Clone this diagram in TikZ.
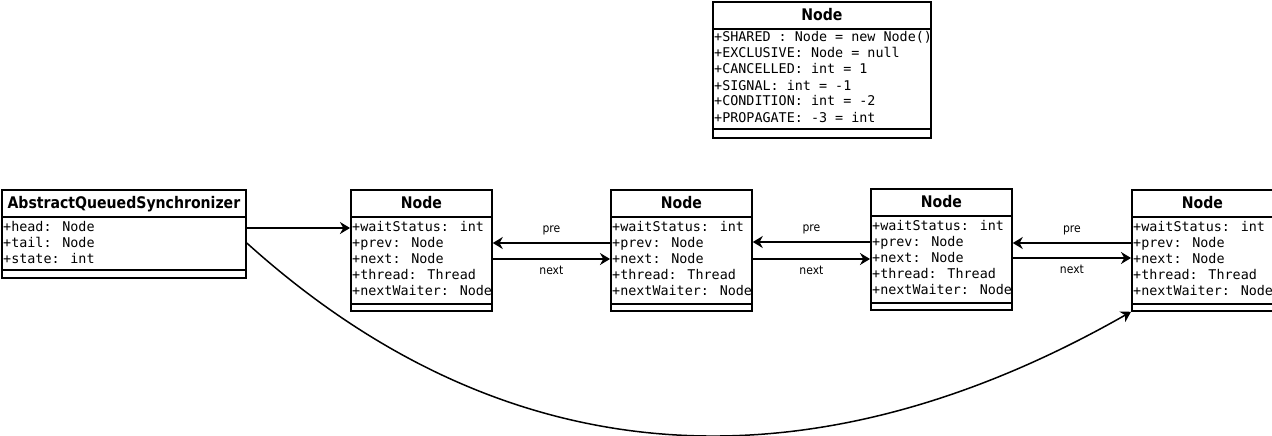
\documentclass[tikz,border=0pt]{standalone}
\usepackage{fontspec}
\setmainfont{DejaVu Sans}
\newfontfamily\monofont{DejaVu Sans Mono}
\newfontfamily\titlefont[FakeStretch=0.88]{DejaVu Sans}
\newfontfamily\labelfont[FakeStretch=0.9]{DejaVu Sans}
\usetikzlibrary{arrows.meta}

\begin{document}
\begin{tikzpicture}[x=1pt,y=-1pt,
  classbox/.style={draw, line width=1.8pt, inner sep=0pt, anchor=north west},
  classname/.style={font=\titlefont\bfseries\fontsize{16}{18}\selectfont, anchor=base, inner sep=0pt},
  member/.style={font=\monofont\fontsize{13.4}{16}\selectfont, anchor=base west, inner sep=0pt},
  rule/.style={line width=1.8pt},
  link/.style={line width=1.8pt, -{Stealth[length=10pt,width=12pt]}},
  linklabel/.style={font=\labelfont\fontsize{12}{14}\selectfont, inner sep=0pt, anchor=base}]
\useasboundingbox (0,0) rectangle (1272,436);

% constants of Node
\node[classbox, minimum width=218pt, minimum height=136pt] (consts) at (712,1) {};
\node[classname] at ([yshift=-19.5pt]consts.north) {Node};
\draw[rule] ([yshift=-28pt]consts.north west) -- ([yshift=-28pt]consts.north east);
\draw[rule] ([yshift=10pt]consts.south west) -- ([yshift=10pt]consts.south east);
\foreach \txt [count=\i] in {+SHARED : Node = new Node(), +EXCLUSIVE: Node = null,
    +CANCELLED: int = 1, +SIGNAL: int = -1, +CONDITION: int = -2, +PROPAGATE: -3 = int}
  \node[member] at ([xshift=2pt, yshift={-25pt-\i*16pt}]consts.north west) {\txt};

% synchronizer
\node[classbox, minimum width=244pt, minimum height=88pt] (aqs) at (1,189) {};
\node[classname] at ([yshift=-19.5pt]aqs.north) {AbstractQueuedSynchronizer};
\draw[rule] ([yshift=-28pt]aqs.north west) -- ([yshift=-28pt]aqs.north east);
\draw[rule] ([yshift=9pt]aqs.south west) -- ([yshift=9pt]aqs.south east);
\foreach \txt [count=\i] in {+head: Node, +tail: Node, +state: int}
  \node[member] at ([xshift=2pt, yshift={-26pt-\i*16pt}]aqs.north west) {\txt};

% queue of nodes
\foreach \nm/\x/\y in {n1/350/189, n2/610/189, n3/870/188, n4/1131/189} {
  \node[classbox, minimum width=141pt, minimum height=121pt] (\nm) at (\x,\y) {};
  \node[classname] at ([yshift=-19.5pt]\nm.north) {Node};
  \draw[rule] ([yshift=-28pt]\nm.north west) -- ([yshift=-28pt]\nm.north east);
  \draw[rule] ([yshift=8pt]\nm.south west) -- ([yshift=8pt]\nm.south east);
  \foreach \txt [count=\i] in {+waitStatus: int, +prev: Node, +next: Node,
      +thread: Thread, +nextWaiter: Node}
    \node[member] at ([xshift=2pt, yshift={-26pt-\i*16pt}]\nm.north west) {\txt};
}

% links
\draw[link] ([yshift=-39pt]aqs.north east) -- ([yshift=-39pt]aqs.north east -| n1.west);
\foreach \a/\b in {n1/n2, n2/n3, n3/n4} {
  \draw[link] ([yshift=-54pt]\b.north west) -- ([yshift=-54pt]\b.north west -| \a.east)
    node[linklabel, midway, yshift=10.7pt] {pre};
  \draw[link] ([yshift=-70pt]\a.north east) -- ([yshift=-70pt]\a.north east -| \b.west)
    node[linklabel, midway, yshift=-15pt] {next};
}
\draw[link, line width=1.5pt] ([yshift=-54pt]aqs.north east)
  .. controls +(275,248) and +(-301,171.5) .. (n4.south west);
\end{tikzpicture}
\end{document}
